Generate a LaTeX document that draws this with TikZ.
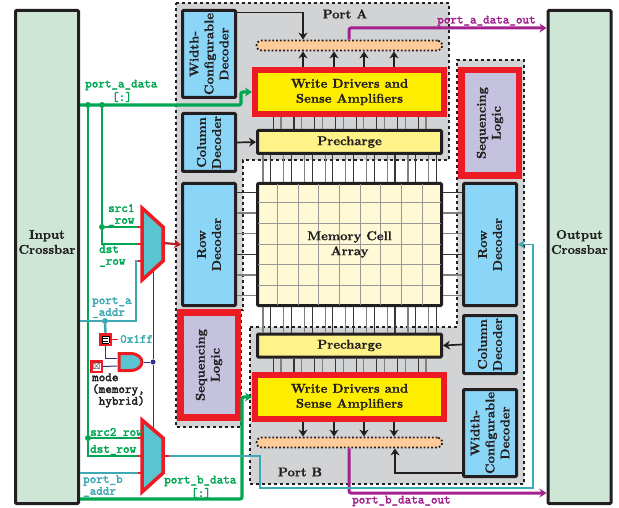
\documentclass[tikz,border=0pt]{standalone}
\usepackage{amssymb}
\usepackage{fontspec}
\usepackage{tikz}
\usetikzlibrary{arrows.meta}
\newfontfamily\labelfont[FakeBold=2.5]{lmmono10-regular.otf}
\newfontfamily\blockfont[FakeBold=0.8]{lmroman10-bold.otf}
\definecolor{ink}{HTML}{231F20}
\definecolor{xbargreen}{HTML}{CDE6D6}
\definecolor{decblue}{HTML}{8BD6F7}
\definecolor{seqpurple}{HTML}{C5C2E0}
\definecolor{wdyellow}{HTML}{FFED00}
\definecolor{preyellow}{HTML}{FFF289}
\definecolor{cellyellow}{HTML}{FFFAD5}
\definecolor{baror}{HTML}{FFCC99}
\definecolor{portgray}{HTML}{D1D3D4}
\definecolor{muxteal}{HTML}{5AC5D1}
\definecolor{wireteal}{HTML}{3FA9B3}
\definecolor{wiregreen}{HTML}{00A651}
\definecolor{hotred}{HTML}{ED1C24}
\definecolor{darkred}{HTML}{B5202A}
\definecolor{wirepurple}{HTML}{A3218E}
\definecolor{wireblue}{HTML}{2E3192}
\tikzset{
  mainfont/.style={font=\blockfont\fontsize{12.8}{15}\selectfont, text=ink, align=center},
  xbar/.style={mainfont, draw=ink, line width=3pt, rounded corners=1pt, fill=xbargreen, minimum width=63pt, minimum height=493pt, inner sep=0pt},
  decoder/.style={mainfont, draw=ink, line width=3pt, rounded corners=1pt, fill=decblue, rotate=90, minimum height=53pt, inner sep=0pt},
  seqbox/.style={mainfont, draw=hotred, line width=6.5pt, fill=seqpurple, rotate=90, inner sep=0pt},
  wdbox/.style={mainfont, draw=hotred, line width=6pt, fill=wdyellow, minimum width=189pt, minimum height=44pt, inner sep=0pt},
  prebox/.style={mainfont, draw=ink, line width=3pt, rounded corners=1pt, fill=preyellow, minimum width=184pt, minimum height=23pt, inner sep=0pt},
  outbar/.style={draw=ink, line width=1.8pt, dash pattern=on 1.8pt off 2pt, rounded corners=5pt, fill=baror, minimum width=186pt, minimum height=10pt, inner sep=0pt},
  portregion/.style={draw=ink, line width=1.5pt, dash pattern=on 3pt off 3pt, fill=portgray},
  muxbox/.style={draw=hotred, line width=3.5pt, fill=muxteal, line join=miter},
  ttlabel/.style={font=\labelfont\fontsize{12.5}{11.8}\selectfont, anchor=west, align=left, inner sep=0pt},
  wiredot/.style={circle, fill=#1, inner sep=0pt, minimum size=6pt},
  ctlbox/.style={draw=hotred, line width=2.5pt, fill=white, minimum size=10.5pt, inner sep=0pt, font=\fontsize{6}{6}\selectfont},
  arrowline/.style={->, draw=ink, line width=1.7pt},
  greenthick/.style={draw=wiregreen, line width=3.2pt, rounded corners=2pt},
  greenthin/.style={draw=wiregreen, line width=2pt},
  tealwire/.style={draw=wireteal, line width=1.8pt},
  bluewire/.style={draw=wireblue, line width=1pt},
  purplewire/.style={->, draw=wirepurple, line width=3pt, rounded corners=2pt},
  redstub/.style={draw=hotred, line width=1.8pt},
  bitdark/.style={draw=ink!90, line width=1.2pt},
  bitgray/.style={draw=gray, line width=1.2pt},
}
\begin{document}
\begin{tikzpicture}[x=1pt, y=-1pt, >={Stealth[length=7pt,width=9pt]}]
\useasboundingbox (0,0) rectangle (619,508);
% port regions
\draw[portregion] (176,3) -- (449,3) -- (449,160) -- (243,160) -- (243,310) -- (241,310) -- (241,427) -- (176,427) -- cycle;
\draw[portregion] (250,327) -- (457,327) -- (457,60) -- (524,60) -- (524,484) -- (250,484) -- cycle;
\node[mainfont] (porta) at (345,14) {Port A};
\node[mainfont] (portb) at (300,472) {Port B};
% crossbars
\node[xbar] (inxbar) at (47,257) {};
\node[mainfont] (inxbartext) at (47,242) {Input\\Crossbar};
\node[xbar] (outxbar) at (579.5,257) {};
\node[mainfont] (outxbartext) at (579.5,242) {Output\\Crossbar};
% left column
\node[decoder, minimum width=87pt] (wdeca) at (209,54) {Width-\\Configurable\\Decoder};
\node[decoder, minimum width=58pt] (coldeca) at (209,142.5) {Column\\Decoder};
\node[decoder, minimum width=122pt] (rowdecl) at (209,244.5) {Row\\Decoder};
\node[seqbox, minimum width=105pt, minimum height=57.5pt] (seql) at (209,365) {Sequencing\\Logic};
% right column
\node[seqbox, minimum width=105.5pt, minimum height=57.5pt] (seqr) at (490,123) {Sequencing\\Logic};
\node[decoder, minimum width=122pt] (rowdecr) at (490,244.5) {Row\\Decoder};
\node[decoder, minimum width=58pt] (coldecb) at (490,344.5) {Column\\Decoder};
\node[decoder, minimum width=87pt] (wdecb) at (490,433) {Width-\\Configurable\\Decoder};
% port A stack
\node[outbar] (bara) at (349.5,45.5) {};
\node[wdbox] (wda) at (349.5,92) {Write Drivers and\\Sense Amplifiers};
\node[prebox] (prea) at (349.5,142) {Precharge};
% memory array
\node[draw=ink, line width=3pt, rounded corners=1pt, fill=cellyellow, minimum width=184pt, minimum height=122pt, inner sep=0pt] (memory) at (349.5,244.5) {};
\foreach \x in {277.3,298,318.7,339.4,360.1,380.8,401.5,422.2}
  \draw[gray!80, line width=0.9pt] (\x,184) -- (\x,305);
\foreach \y in {202.7,223.3,244,264.7,285.3}
  \draw[gray!80, line width=0.9pt] (258,\y) -- (441,\y);
\node[mainfont] (memtext) at (349.5,244.5) {Memory Cell\\Array};
% port B stack
\node[prebox] (preb) at (349.5,345.5) {Precharge};
\node[wdbox] (wdb) at (349.5,397) {Write Drivers and\\Sense Amplifiers};
\node[outbar] (barb) at (349.5,442.5) {};
% bit lines
\foreach \x [evaluate=\x as \xb using \x+7.7] in {273.3,294,314.7,335.4,356.1,376.8,397.5,418.2} {
  \draw[bitdark] (wda.south -| \x,0) -- (prea.north -| \x,0);
  \draw[bitgray] (wda.south -| \xb,0) -- (prea.north -| \xb,0);
  \draw[bitdark] (preb.south -| \x,0) -- (wdb.north -| \x,0);
  \draw[bitgray] (preb.south -| \xb,0) -- (wdb.north -| \xb,0);
}
\foreach \x [evaluate=\x as \xb using \x+7.7] in {263,283.7,304.4,325.1,345.8,366.5,387.2,407.9,428.6} {
  \draw[bitgray] (prea.south -| \x,0) -- (memory.north -| \x,0);
  \draw[bitdark] (prea.south -| \xb,0) -- (memory.north -| \xb,0);
  \draw[bitgray] (memory.south -| \x,0) -- (preb.north -| \x,0);
  \draw[bitdark] (memory.south -| \xb,0) -- (preb.north -| \xb,0);
}
% word lines
\foreach \y/\c in {192.3/bitdark,213/bitgray,233.7/bitgray,254.3/bitdark,275/bitgray,295.7/bitgray} {
  \draw[\c] (rowdecl.south |- 0,\y) -- (memory.west |- 0,\y);
  \draw[\c] (memory.east |- 0,\y) -- (rowdecr.north |- 0,\y);
}
% decoder and driver arrows
\foreach \x in {303,334,364,394} {
  \draw[arrowline] (wda.north -| \x,0) -- (bara.south -| \x,0);
  \draw[arrowline] (wdb.south -| \x,0) -- (barb.north -| \x,0);
}
\draw[arrowline] (wdeca.south |- 0,12.5) -| (bara.north -| 303,0);
\draw[arrowline] (coldeca.south) -- (prea.west);
\draw[arrowline] (coldecb.north) -- (preb.east);
\draw[arrowline] (wdecb.north |- 0,473) -| (barb.south -| 395,0);
% data out
\draw[purplewire] (bara.north -| 349,0) |- (outxbar.west |- 0,28);
\draw[purplewire] (barb.south -| 349,0) |- (outxbar.west |- 0,493);
\node[ttlabel, text=wirepurple] (aoutlabel) at (437,21) {port\_a\_data\_out};
\node[ttlabel, text=wirepurple] (boutlabel) at (352,501) {port\_b\_data\_out};
% muxes
\coordinate (muxain1) at (142,227);
\coordinate (muxain2) at (142,244);
\coordinate (muxain3) at (142,261);
\coordinate (muxaout) at (163,243);
\coordinate (muxbin1) at (142,438);
\coordinate (muxbin2) at (142,456);
\coordinate (muxbin3) at (142,473);
\coordinate (muxbout) at (163,456);
% green data wires
\node[wiredot=wiregreen] (ja1) at (88,105) {};
\node[wiredot=wiregreen] (ja2) at (102,105) {};
\node[wiredot=wiregreen] (ja3) at (102,227) {};
\node[wiredot=wiregreen] (jb1) at (88,438) {};
\draw[greenthin] (ja2) -- (ja3) -- (muxain1);
\draw[greenthin] (ja3) |- (muxain2);
\draw[greenthin] (ja1) -- (jb1) -- (muxbin1);
\draw[greenthin] (jb1) |- (muxbin2);
\draw[greenthick, ->] (inxbar.east |- ja1) -- (241,105) |- (wda.west);
\draw[greenthick, ->] (inxbar.east |- 0,499) -- (242,499) |- (wdb.west);
% select logic
\node[wiredot=wireteal] (jaddr) at (105,321) {};
\node[ctlbox] (eqbox) at (105.5,339.5) {\setlength{\fboxsep}{0.6pt}\setlength{\fboxrule}{0.4pt}\fbox{\rule{0pt}{6pt}\raisebox{0.2pt}{\rlap{\hspace{0.1pt}\rule{5.6pt}{1pt}}}\raisebox{3.2pt}{\rule{5.8pt}{1pt}}}};
\node[ctlbox] (xbox) at (96.5,366.5) {\fontsize{9}{9}\selectfont$\boxtimes$};
\coordinate (selin1) at (117,358);
\coordinate (selin2) at (117,366);
\coordinate (selout) at (143.5,362);
\draw[draw=hotred, line width=3pt, fill=muxteal] (119,353.5) -- (130,353.5) .. controls (138,353.5) and (142,358) .. (142,362) .. controls (142,366) and (138,370.5) .. (130,370.5) -- (119,370.5) -- cycle;
\node[wiredot=wireblue, minimum size=5pt] (jsel) at (153,362) {};
\draw[bluewire] (eqbox.south) |- (selin1);
\draw[bluewire] (xbox.east) -- (selin2);
\draw[bluewire] (selout) -- (jsel);
\draw[bluewire] (jsel) -- (153,271);
\draw[bluewire] (jsel) -- (153,429);
\draw[tealwire, line width=2.4pt] (inxbar.east |- jaddr) -- (jaddr) -- (136,321) |- (muxain3);
\draw[tealwire, line width=2.4pt] (jaddr) -- (eqbox.north);
\draw[tealwire, line width=2.4pt] (inxbar.east |- muxbin3) -- (muxbin3);
\draw[tealwire, ->] (muxbout) -- (260,456) -- (260,488) -- (533,488) |- (rowdecr.south);
\draw[->, draw=darkred, line width=2.2pt] (muxaout) -- (rowdecl.north);
\draw[redstub] (eqbox.east) -- (118,339.5);
\draw[muxbox] (142,208) -- (163,227) -- (163,261) -- (142,280) -- cycle;
\draw[muxbox] (142,420) -- (163,438) -- (163,473) -- (142,492) -- cycle;
\foreach \c in {muxain1,muxain2,muxain3,muxbin1,muxbin2,muxbin3}
  \draw[redstub] (\c) -- ++(-4,0);
\draw[redstub] (muxbout) -- ++(6,0);
% wire labels
\node[ttlabel, text=wiregreen] (adatalabel) at (85,85) {port\_a\_data};
\node[ttlabel, text=wiregreen, anchor=center] (adatarange) at (122,97) {[:]};
\node[ttlabel, text=wiregreen] (src1label) at (108,215) {src1\\\_row};
\node[ttlabel, text=wiregreen] (dst1label) at (99,256) {dst\\\_row};
\node[ttlabel, text=wireteal] (aaddrlabel) at (92,307.5) {port\_a\\\_addr};
\node[ttlabel, text=wireteal] (masklabel) at (120,339) {0x1ff};
\node[ttlabel, text=ink] (modelabel) at (92,390.5) {mode\\(memory,\\\ hybrid)};
\node[ttlabel, text=wiregreen] (src2label) at (90,433) {src2\_row};
\node[ttlabel, text=wiregreen] (dst2label) at (90,450) {dst\_row};
\node[ttlabel, text=wireteal] (baddrlabel) at (83,486) {port\_b\\\_addr};
\node[ttlabel, text=wiregreen] (bdatalabel) at (164,481) {port\_b\_data};
\node[ttlabel, text=wiregreen, anchor=center] (bdatarange) at (201,493) {[:]};
\end{tikzpicture}
\end{document}
